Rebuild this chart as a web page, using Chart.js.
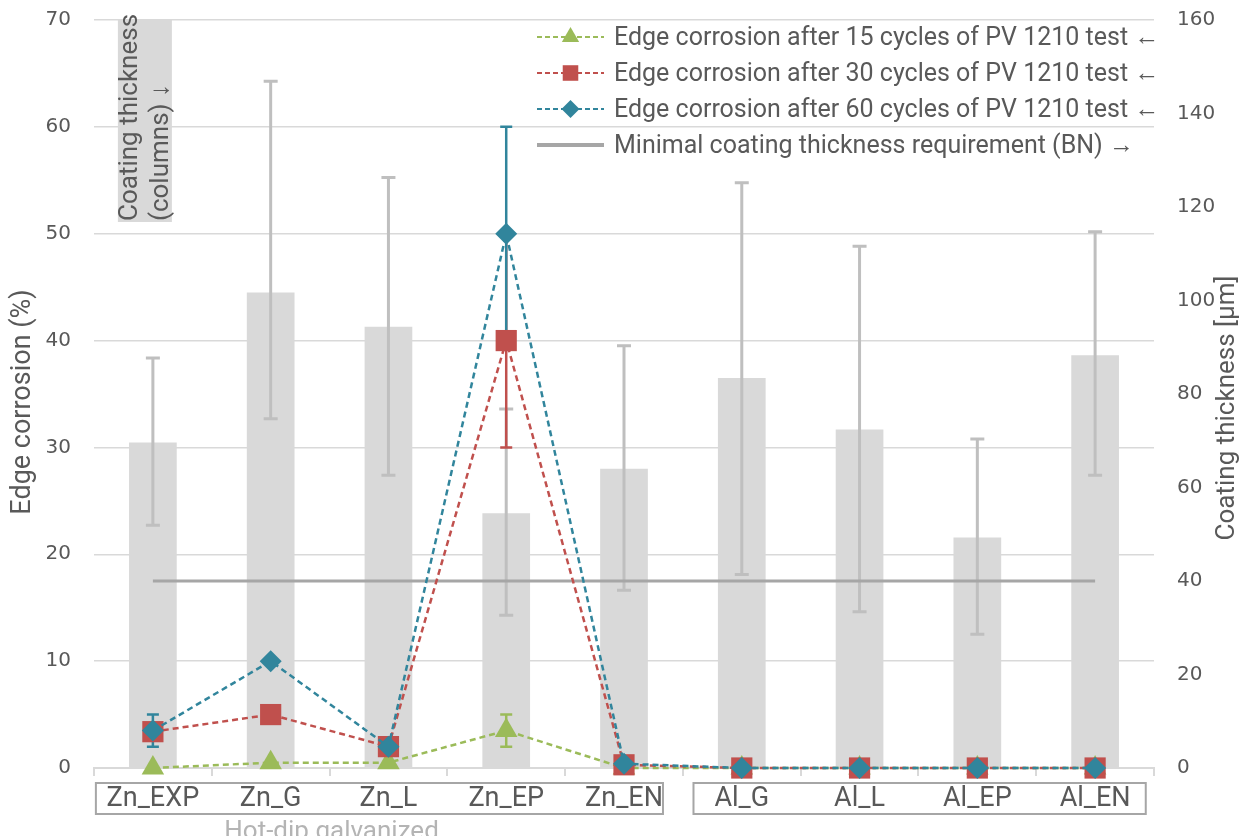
<!DOCTYPE html>
<html>
<head>
<meta charset="utf-8">
<script src="https://cdn.jsdelivr.net/npm/chart.js@4/dist/chart.umd.min.js"></script>
<style>
  html, body { margin: 0; padding: 0; background: #ffffff; }
  #wrap { width: 1247px; height: 836px; position: relative; overflow: hidden; }
  canvas { display: block; }
</style>
</head>
<body>
<div id="wrap"><canvas id="chart" width="1247" height="836"></canvas></div>
<script>
// Coating samples (hot-dip galvanized zinc and aluminium variants)
const categories = ['Zn_EXP', 'Zn_G', 'Zn_L', 'Zn_EP', 'Zn_EN', 'Al_G', 'Al_L', 'Al_EP', 'Al_EN'];

// Coating thickness in µm (columns, right axis) with spread limits
const coatingThickness = [69.6, 101.7, 94.4, 54.5, 64.0, 83.4, 72.4, 49.3, 88.3];
const coatingHigh      = [87.7, 146.9, 126.3, 76.8, 90.3, 125.2, 111.6, 70.4, 114.7];
const coatingLow       = [51.9, 74.7, 62.6, 32.7, 38.0, 41.4, 33.4, 28.6, 62.6];

// Minimal coating thickness requirement (BN), µm
const minThickness = [40, 40, 40, 40, 40, 40, 40, 40, 40];

// Edge corrosion in % (left axis) and its +/- deviation
const corrosion15    = [0, 0.5, 0.5, 3.5, 0, 0, 0, 0, 0];
const corrosion15Err = [0, 0, 0, 1.5, 0, 0, 0, 0, 0];
const corrosion30    = [3.4, 5, 2, 40, 0.3, 0, 0, 0, 0];
const corrosion30Err = [0, 0, 0, 10, 0, 0, 0, 0, 0];
const corrosion60    = [3.5, 10, 2, 50, 0.4, 0, 0, 0, 0];
const corrosion60Err = [1.5, 0, 0, 10, 0, 0, 0, 0, 0];

// Axis ranges
const corrosionAxis = { min: 0, max: 70, step: 10 };
const thicknessAxis = { min: 0, max: 160, step: 20 };

// Text
const legendLabels = [
  'Edge corrosion after 15 cycles of PV 1210 test \u2190',
  'Edge corrosion after 30 cycles of PV 1210 test \u2190',
  'Edge corrosion after 60 cycles of PV 1210 test \u2190',
  'Minimal coating thickness requirement (BN) \u2192'
];
const leftTitle = 'Edge corrosion (%)';
const rightTitle = 'Coating thickness [\u00b5m]';
const columnsNote = ['Coating thickness', '(columns) \u2193'];
const groupLabel = 'Hot-dip galvanized';

const GREEN = '#9bbb59', RED = '#c0504d', BLUE = '#31859c';
const BAR = '#d9d9d9', BAR_ERR = '#bfbfbf', MIN_LINE = '#a6a6a6';
const TEXT = '#595959';
const TEXT_FONT = 'Roboto';
const NUM_FONT = 'DejaVu Sans';

Chart.defaults.font.family = TEXT_FONT;
Chart.defaults.color = TEXT;

// Error bars for the columns and for the corrosion series
const errorBars = {
  id: 'errorBars',
  afterDatasetDraw(chart, args) {
    const ctx = chart.ctx;
    const x = chart.scales.x;
    if (args.index === 0) {
      const y2 = chart.scales.y2;
      ctx.save();
      ctx.strokeStyle = BAR_ERR;
      ctx.lineWidth = 3;
      coatingThickness.forEach((v, i) => {
        const px = x.getPixelForTick(i);
        const hi = y2.getPixelForValue(coatingHigh[i]);
        const lo = y2.getPixelForValue(coatingLow[i]);
        ctx.beginPath();
        ctx.moveTo(px, hi); ctx.lineTo(px, lo);
        ctx.moveTo(px - 7, hi); ctx.lineTo(px + 7, hi);
        ctx.moveTo(px - 7, lo); ctx.lineTo(px + 7, lo);
        ctx.stroke();
      });
      ctx.restore();
    }
    if (args.index === 1) {
      const y = chart.scales.y;
      const series = [
        [corrosion15, corrosion15Err, GREEN],
        [corrosion30, corrosion30Err, RED],
        [corrosion60, corrosion60Err, BLUE]
      ];
      ctx.save();
      ctx.lineWidth = 2.5;
      series.forEach(([vals, errs, col]) => {
        ctx.strokeStyle = col;
        vals.forEach((v, i) => {
          if (!errs[i]) return;
          const px = x.getPixelForTick(i);
          const hi = y.getPixelForValue(v + errs[i]);
          const lo = y.getPixelForValue(v - errs[i]);
          ctx.beginPath();
          ctx.moveTo(px, hi); ctx.lineTo(px, lo);
          ctx.moveTo(px - 6, hi); ctx.lineTo(px + 6, hi);
          ctx.moveTo(px - 6, lo); ctx.lineTo(px + 6, lo);
          ctx.stroke();
        });
      });
      ctx.restore();
    }
  }
};

// Grey tag explaining the columns, top left of the plot
const columnsTag = {
  id: 'columnsTag',
  beforeDatasetsDraw(chart) {
    const ctx = chart.ctx;
    const area = chart.chartArea;
    const px = chart.scales.x.getPixelForTick(0);
    const left = px - 35, right = px + 19;
    const bottom = area.top + 202;
    ctx.save();
    ctx.fillStyle = BAR;
    ctx.fillRect(left, area.top, right - left, bottom - area.top);
    ctx.fillStyle = TEXT;
    ctx.font = '26px ' + TEXT_FONT;
    ctx.textAlign = 'left';
    ctx.textBaseline = 'middle';
    [left + 13, left + 44].forEach((cx, k) => {
      ctx.save();
      ctx.translate(cx, bottom - 1);
      ctx.rotate(-Math.PI / 2);
      ctx.fillText(columnsNote[k], 0, 0);
      ctx.restore();
    });
    ctx.restore();
  }
};

// Legend, axis titles, category group frames
const decorations = {
  id: 'decorations',
  afterDraw(chart) {
    const ctx = chart.ctx;
    const area = chart.chartArea;
    const x = chart.scales.x;
    const H = Chart.helpers;

    // legend
    const lx0 = area.right - 617, lx1 = area.right - 550, tx = area.right - 540;
    const rows = [area.top + 17, area.top + 53, area.top + 89, area.top + 125];
    const marks = [
      { color: GREEN, style: 'triangle', r: 10 },
      { color: RED, style: 'rect', r: 11 },
      { color: BLUE, style: 'rectRot', r: 9 }
    ];
    ctx.save();
    marks.forEach((m, k) => {
      const yy = rows[k];
      ctx.strokeStyle = m.color;
      ctx.lineWidth = 2;
      ctx.setLineDash([5, 3]);
      ctx.beginPath(); ctx.moveTo(lx0, yy); ctx.lineTo(lx1, yy); ctx.stroke();
      ctx.setLineDash([]);
      ctx.fillStyle = m.color;
      H.drawPoint(ctx, { pointStyle: m.style, radius: m.r, rotation: 0, borderWidth: 0 }, (lx0 + lx1) / 2, yy);
    });
    ctx.strokeStyle = MIN_LINE;
    ctx.lineWidth = 4;
    ctx.beginPath(); ctx.moveTo(lx0, rows[3]); ctx.lineTo(lx1, rows[3]); ctx.stroke();
    ctx.fillStyle = TEXT;
    ctx.font = '25px ' + TEXT_FONT;
    ctx.textAlign = 'left';
    ctx.textBaseline = 'middle';
    legendLabels.forEach((t, k) => ctx.fillText(t, tx, rows[k] + 2));
    ctx.restore();

    // axis titles, both reading bottom to top
    ctx.save();
    ctx.fillStyle = TEXT;
    ctx.textAlign = 'center';
    ctx.textBaseline = 'middle';
    const mid = (area.top + area.bottom) / 2;
    ctx.font = '27px ' + TEXT_FONT;
    ctx.save(); ctx.translate(23, mid + 8); ctx.rotate(-Math.PI / 2); ctx.fillText(leftTitle, 0, 0); ctx.restore();
    ctx.font = '26px ' + TEXT_FONT;
    ctx.save(); ctx.translate(chart.width - 20, mid + 14); ctx.rotate(-Math.PI / 2); ctx.fillText(rightTitle, 0, 0); ctx.restore();
    ctx.restore();

    // frames around the category groups
    const w = x.getPixelForTick(1) - x.getPixelForTick(0);
    const top = x.top + 15, bot = x.top + 46;
    ctx.save();
    ctx.strokeStyle = MIN_LINE;
    ctx.lineWidth = 2;
    const f1l = x.getPixelForTick(0) - 0.484 * w, f1r = x.getPixelForTick(4) + 0.331 * w;
    const f2l = x.getPixelForTick(5) - 0.41 * w, f2r = x.getPixelForTick(8) + 0.43 * w;
    ctx.strokeRect(f1l, top, f1r - f1l, bot - top);
    ctx.strokeRect(f2l, top, f2r - f2l, bot - top);
    ctx.fillStyle = '#b4b4b4';
    ctx.font = '26px ' + TEXT_FONT;
    ctx.textAlign = 'center';
    ctx.textBaseline = 'alphabetic';
    ctx.fillText(groupLabel, (x.getPixelForTick(1) + x.getPixelForTick(2)) / 2 + 2, x.top + 71);
    ctx.restore();
  }
};

// Fixed widths for the value axes, without extra label padding at the top
function fixValueAxis(width) {
  return function (s) {
    s.width = width;
    s.paddingTop = 0;
    s.paddingBottom = 0;
  };
}

new Chart(document.getElementById('chart'), {
  data: {
    labels: categories,
    datasets: [
      {
        type: 'bar', label: 'Coating thickness', data: coatingThickness, yAxisID: 'y2',
        backgroundColor: BAR, borderWidth: 0, barPercentage: 0.405, categoryPercentage: 1, order: 4
      },
      {
        type: 'line', label: legendLabels[3], data: minThickness, yAxisID: 'y2',
        borderColor: MIN_LINE, borderWidth: 3, pointRadius: 0, fill: false, order: 3
      },
      {
        type: 'line', label: legendLabels[0], data: corrosion15, yAxisID: 'y',
        borderColor: GREEN, borderWidth: 2.5, borderDash: [6, 4], fill: false, clip: false,
        pointStyle: 'triangle', pointRadius: 13, pointBackgroundColor: GREEN, pointBorderWidth: 0, order: 2
      },
      {
        type: 'line', label: legendLabels[1], data: corrosion30, yAxisID: 'y',
        borderColor: RED, borderWidth: 2.5, borderDash: [6, 4], fill: false, clip: false,
        pointStyle: 'rect', pointRadius: 15, pointBackgroundColor: RED, pointBorderWidth: 0, order: 1
      },
      {
        type: 'line', label: legendLabels[2], data: corrosion60, yAxisID: 'y',
        borderColor: BLUE, borderWidth: 2.5, borderDash: [6, 4], fill: false, clip: false,
        pointStyle: 'rectRot', pointRadius: 11, pointBackgroundColor: BLUE, pointBorderWidth: 0, order: 0
      }
    ]
  },
  options: {
    responsive: false,
    animation: false,
    events: [],
    layout: { padding: { top: 20, left: 0, right: 0, bottom: 0 } },
    plugins: { legend: { display: false }, tooltip: { enabled: false } },
    scales: {
      x: {
        type: 'category', offset: true,
        grid: { display: true, drawOnChartArea: false, drawTicks: true, tickLength: 8, color: BAR, lineWidth: 2, offset: true },
        border: { display: true, color: BAR, width: 2 },
        ticks: { color: TEXT, font: { family: TEXT_FONT, size: 27 }, padding: 7, maxRotation: 0, autoSkip: false },
        afterFit(s) { s.height = 68; s.paddingLeft = 0; s.paddingRight = 0; }
      },
      y: {
        position: 'left', min: corrosionAxis.min, max: corrosionAxis.max,
        ticks: { stepSize: corrosionAxis.step, color: TEXT, font: { family: NUM_FONT, size: 20 }, padding: 23 },
        grid: { color: BAR, lineWidth: 1.5, drawTicks: false },
        border: { display: false },
        afterFit: fixValueAxis(94)
      },
      y2: {
        position: 'right', min: thicknessAxis.min, max: thicknessAxis.max,
        ticks: { stepSize: thicknessAxis.step, color: TEXT, font: { family: NUM_FONT, size: 20 }, padding: 23 },
        grid: { drawOnChartArea: false, drawTicks: false },
        border: { display: false },
        afterFit: fixValueAxis(93)
      }
    }
  },
  plugins: [errorBars, columnsTag, decorations]
});
</script>
</body>
</html>
